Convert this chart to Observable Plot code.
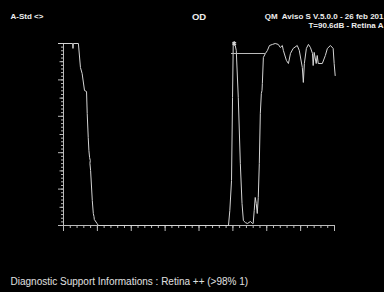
<!DOCTYPE html>
<html>
<head>
<meta charset="utf-8">
<script src="https://cdn.jsdelivr.net/npm/d3@7"></script>
<script src="https://cdn.jsdelivr.net/npm/@observablehq/plot@0.6"></script>
<style>
  html, body { margin: 0; padding: 0; background: #000; overflow: hidden; }
  #chart svg { display: block; }
</style>
</head>
<body>
<div id="chart"></div>
<script>
// A-scan trace (x: position units 0–80, y: reflectivity 0–100)
const traceX = [-1.5, 2.7, 2.8, 2.9, 4.4, 5.0, 5.5, 6.2, 6.8, 7.0, 7.3, 7.5, 7.7, 7.9, 7.8, 8.0, 8.5, 8.8, 9.0, 9.1, 9.9, 10.3,
  48.7, 49.1, 49.6, 49.9, 50.1, 50.4, 50.7, 51.0, 51.6, 52.2, 52.7, 53.1, 53.7, 54.3, 55.2, 55.8, 56.0, 56.3, 56.6, 56.9, 57.2, 57.5, 57.8,
  58.1, 58.4, 58.6, 58.7, 59.0, 59.6, 60.2, 60.8, 61.7, 62.5, 63.4, 64.0, 64.6, 64.9, 65.8, 66.4, 67.0, 67.8, 69.0, 69.6, 70.5, 70.8,
  71.1, 71.7, 72.3, 72.9, 73.5, 73.7, 74.0, 74.6, 74.9, 75.2, 76.4, 77.3, 77.9, 78.8, 79.6, 79.9, 80.2];
const traceY = [100, 100, 97.3, 100, 100, 86.8, 83.5, 74.2, 73.6, 61.5, 48.4, 41.2, 37.4, 35.7, 34.1, 30.2, 13.7, 6.6, 4.9, 3.3, 1.1, 0,
  0, 8.2, 24.7, 70.3, 98.9, 100, 98.9, 96.2, 70.3, 34.1, 12.1, 2.7, 1.6, 1.1, 2.2, 1.1, 1.1, 8.2, 15.4, 12.1, 6.6, 15.4, 34.1,
  61.5, 72.5, 74.2, 78, 92.3, 94.5, 96.2, 98.9, 99.5, 100, 99.5, 97.8, 98.9, 96.2, 90.7, 89, 94.5, 97.3, 98.9, 96.2, 86.8, 78.6,
  89, 97.3, 99.5, 97.8, 94.5, 87.9, 95.1, 89, 93.4, 89, 89, 93.4, 97.3, 98.9, 97.3, 89, 82.4];
// Retina marker (horizontal gate) and peak marker
const gateX = [49.6, 59.6];
const gateY = 94.5;
const peak = {x: 50.4, y: 100};
// Tick values
const xMajor = d3.range(0, 81, 10);
const xMinor = d3.range(0, 81, 2);
const yMajor = d3.range(0, 101, 20);
const yMid = d3.range(10, 101, 20);
const yMinor = d3.range(0, 101, 2);
// Texts (as visible in the reference)
const topLeft = "A-Std <>";
const topCenter = "OD";
const topRight1 = "QM  Aviso S V.5.0.0 - 26 feb 201";
const topRight2 = "T=90.6dB - Retina A";
const bottomText = "Diagnostic Support Informations : Retina ++ (>98% 1)";

const trace = traceX.map((x, i) => ({x, y: traceY[i]}));
const col = "#d4d4d4";
const font = "Liberation Sans, Arial, sans-serif";

const chart = Plot.plot({
  width: 384,
  height: 292,
  marginLeft: 63,
  marginRight: 50,
  marginTop: 43,
  marginBottom: 67,
  style: {background: "#000", color: col, fontFamily: font, overflow: "hidden"},
  x: {domain: [0, 80]},
  y: {domain: [0, 100]},
  marks: [
    Plot.axisX(xMinor, {tickSize: 3, tickFormat: () => "", label: null, stroke: "#bbb"}),
    Plot.axisX(xMajor, {tickSize: 6, tickFormat: () => "", label: null, stroke: "#bbb"}),
    Plot.axisY(yMinor, {tickSize: 2, tickFormat: () => "", label: null, stroke: "#bbb"}),
    Plot.axisY(yMid, {tickSize: 3.5, tickFormat: () => "", label: null, stroke: "#bbb"}),
    Plot.axisY(yMajor, {tickSize: 5, tickFormat: () => "", label: null, stroke: "#bbb"}),
    Plot.ruleY([0], {stroke: "#bbb"}),
    Plot.ruleX([0], {stroke: "#bbb"}),
    Plot.line(trace, {x: "x", y: "y", stroke: col, strokeWidth: 1, clip: false}),
    Plot.ruleY([gateY], {x1: gateX[0], x2: gateX[1], stroke: "#bbb"}),
    Plot.dot([peak], {x: "x", y: "y", symbol: "asterisk", r: 2, stroke: col}),
    Plot.text([topLeft], {frameAnchor: "top-left", dx: -53, dy: -30, textAnchor: "start", fontSize: 8, fontWeight: "bold", fill: "#eee"}),
    Plot.text([topCenter], {frameAnchor: "top", dy: -30, fontSize: 9.5, fontWeight: "bold", fill: "#eee"}),
    Plot.text([topRight1], {frameAnchor: "top-right", dx: 49, dy: -30, textAnchor: "end", fontSize: 8, fontWeight: "bold", fill: "#eee"}),
    Plot.text([topRight2], {frameAnchor: "top-right", dx: 49, dy: -21, textAnchor: "end", fontSize: 8, fontWeight: "bold", fill: "#eee"}),
    Plot.text([bottomText], {frameAnchor: "bottom-left", dx: -53, dy: 59, textAnchor: "start", fontSize: 10, fill: "#e0e0e0"})
  ]
});
document.getElementById("chart").appendChild(chart);
</script>
</body>
</html>
